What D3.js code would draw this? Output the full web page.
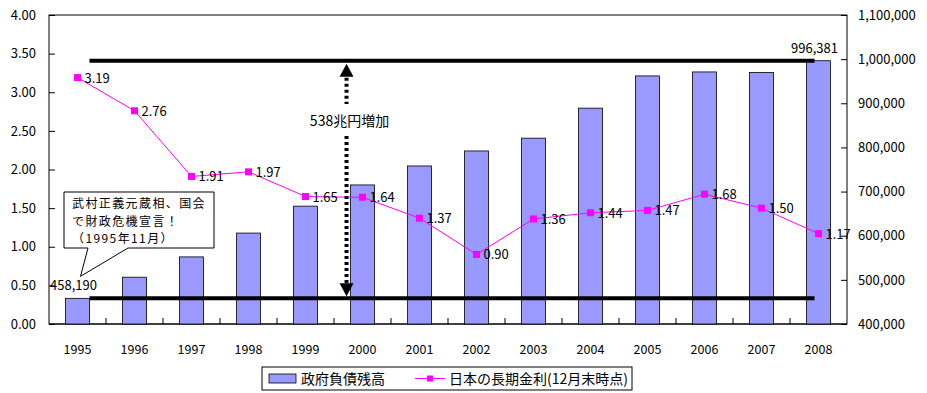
<!DOCTYPE html>
<html>
<head>
<meta charset="utf-8">
<script src="https://cdn.jsdelivr.net/npm/d3@7"></script>
<style>
  body { margin: 0; background: #fff; }
  svg text { font-family: "MS PGothic", "Noto Sans CJK JP", sans-serif; fill: #000; }
</style>
</head>
<body>
<div id="container"></div>
<script>
// data
const years = ['1995','1996','1997','1998','1999','2000','2001','2002','2003','2004','2005','2006','2007','2008'];
const debt = [458190, 506000, 552000, 606000, 667000, 715000, 758000, 792000, 821000, 889000, 962000, 971000, 970000, 996381];
const rates = [3.19, 2.76, 1.91, 1.97, 1.65, 1.64, 1.37, 0.90, 1.36, 1.44, 1.47, 1.68, 1.50, 1.17];
const leftTicks = [0, 0.5, 1, 1.5, 2, 2.5, 3, 3.5, 4];
const rightTicks = [400000, 500000, 600000, 700000, 800000, 900000, 1000000, 1100000];
const seriesNames = ['政府負債残高', '日本の長期金利(12月末時点)'];
const calloutLines = ['武村正義元蔵相、国会', 'で財政危機宣言！', '（1995年11月）'];
const increaseLabel = '538兆円増加';

const W = 927, H = 393;
const plot = { left: 49, right: 847, top: 15, bottom: 324 };

const svg = d3.select('#container')
    .append('svg')
    .attr('width', W)
    .attr('height', H)

const x = d3.scaleBand()
    .domain(years)
    .range([plot.left, plot.right])
    .paddingInner(0.58)
    .paddingOuter(0.29)

const yRate = d3.scaleLinear().domain([0, 4]).range([plot.bottom, plot.top])
const yDebt = d3.scaleLinear().domain([400000, 1100000]).range([plot.bottom, plot.top])

const cx = d => x(d) + x.bandwidth() / 2

// plot frame
svg.append('rect')
    .attr('x', plot.left).attr('y', plot.top)
    .attr('width', plot.right - plot.left)
    .attr('height', plot.bottom - plot.top)
    .attr('fill', 'none')
    .attr('stroke', '#000')
    .attr('stroke-width', 1)

// left axis (ticks inside)
const leftAxis = d3.axisLeft(yRate).tickValues(leftTicks).tickFormat(d3.format('.2f')).tickSizeInner(-6).tickSizeOuter(0).tickPadding(13)
const gl = svg.append('g').attr('transform', `translate(${plot.left},0)`).call(leftAxis)
gl.selectAll('text').style('font-size', '13px')

// right axis (ticks inside)
const rightAxis = d3.axisRight(yDebt).tickValues(rightTicks).tickFormat(d3.format(',')).tickSizeInner(-6).tickSizeOuter(0).tickPadding(11)
const gr = svg.append('g').attr('transform', `translate(${plot.right},0)`).call(rightAxis)
gr.selectAll('text').style('font-size', '13px')

// x axis: ticks at category boundaries, pointing up
const gx = svg.append('g').attr('transform', `translate(0,${plot.bottom})`)
gx.append('line').attr('x1', plot.left).attr('x2', plot.right).attr('stroke', '#000')
years.slice(1).forEach(y => {
    const bx = x(y) - x.step() * x.paddingInner() / 2
    gx.append('line').attr('x1', bx).attr('x2', bx).attr('y1', 0).attr('y2', -6).attr('stroke', '#000')
})
gx.selectAll('text.year')
    .data(years)
    .enter()
    .append('text')
    .attr('class', 'year')
    .attr('x', d => cx(d))
    .attr('y', 30)
    .attr('text-anchor', 'middle')
    .style('font-size', '12.5px')
    .text(d => d)

svg.selectAll('.domain').remove()

// bars
svg.selectAll('rect.bar')
    .data(debt)
    .enter()
    .append('rect')
    .attr('class', 'bar')
    .attr('x', (d, i) => x(years[i]))
    .attr('y', d => yDebt(d))
    .attr('width', x.bandwidth())
    .attr('height', d => plot.bottom - yDebt(d))
    .attr('fill', '#9999FF')
    .attr('stroke', '#000')
    .attr('stroke-width', 0.8)

// thick reference lines at first and last debt values
const first = debt[0], last = debt[debt.length - 1]
const lx1 = x(years[0]) + x.bandwidth(), lx2 = x(years[years.length - 1]) + 8
;[first, last].forEach(v => {
    svg.append('line')
        .attr('x1', lx1).attr('x2', lx2)
        .attr('y1', yDebt(v)).attr('y2', yDebt(v))
        .attr('stroke', '#000')
        .attr('stroke-width', 4)
})

// debt labels for first and last bars
;[0, debt.length - 1].forEach(i => {
    svg.append('text')
        .attr('x', cx(years[i]) - 4)
        .attr('y', yDebt(debt[i]) - 8)
        .attr('text-anchor', 'middle')
        .style('font-size', '13px')
        .text(d3.format(',')(debt[i]))
})

// rate line
const line = d3.line().x((d, i) => cx(years[i])).y(d => yRate(d))
svg.append('path')
    .datum(rates)
    .attr('d', line)
    .attr('fill', 'none')
    .attr('stroke', '#FF00FF')
    .attr('stroke-width', 1)

svg.selectAll('rect.marker')
    .data(rates)
    .enter()
    .append('rect')
    .attr('class', 'marker')
    .attr('x', (d, i) => cx(years[i]) - 3.5)
    .attr('y', d => yRate(d) - 3.5)
    .attr('width', 7)
    .attr('height', 7)
    .attr('fill', '#FF00FF')

svg.selectAll('text.rate')
    .data(rates)
    .enter()
    .append('text')
    .attr('class', 'rate')
    .attr('x', (d, i) => cx(years[i]) + 7)
    .attr('y', d => yRate(d) + 5)
    .style('font-size', '13px')
    .text(d => d.toFixed(2))

// dotted double arrow
const ax = x('2000') - 4
const aTop = yDebt(last) + 3, aBot = yDebt(first) - 2
const labelY = (aTop + aBot) / 2 - 60
svg.append('line')
    .attr('x1', ax).attr('x2', ax)
    .attr('y1', aTop + 14).attr('y2', labelY - 16)
    .attr('stroke', '#000').attr('stroke-width', 4).attr('stroke-dasharray', '3,3')
svg.append('line')
    .attr('x1', ax).attr('x2', ax)
    .attr('y1', labelY + 16).attr('y2', aBot - 12)
    .attr('stroke', '#000').attr('stroke-width', 4).attr('stroke-dasharray', '3,3')
svg.append('path')
    .attr('d', `M${ax},${aTop} L${ax - 7},${aTop + 13} L${ax + 7},${aTop + 13} Z`)
    .attr('fill', '#000')
svg.append('path')
    .attr('d', `M${ax},${aBot} L${ax - 7},${aBot - 13} L${ax + 7},${aBot - 13} Z`)
    .attr('fill', '#000')
svg.append('text')
    .attr('x', ax + 3)
    .attr('y', labelY + 6)
    .attr('text-anchor', 'middle')
    .style('font-size', '14px')
    .text(increaseLabel)

// callout
const bx0 = 64, bx1 = 214, by0 = 192, by1 = 248
const tipX = cx(years[0]) + 3, tipY = yDebt(first) - 22
svg.append('path')
    .attr('d', `M${bx0},${by0} H${bx1} V${by1} H${bx0 + 64} L${tipX},${tipY} L${bx0 + 24},${by1} H${bx0} Z`)
    .attr('fill', '#fff')
    .attr('stroke', '#000')
    .attr('stroke-width', 1)
calloutLines.forEach((t, i) => {
    svg.append('text')
        .attr('x', bx0 + 8)
        .attr('y', by0 + 16 + i * 17.5)
        .style('font-size', '12px')
        .style('letter-spacing', '1.4px')
        .text(t)
})

// legend
const lg = svg.append('g').attr('transform', 'translate(262,367)')
lg.append('rect').attr('width', 370).attr('height', 23).attr('fill', '#fff').attr('stroke', '#000')
lg.append('rect').attr('x', 7).attr('y', 7).attr('width', 27).attr('height', 9).attr('fill', '#9999FF').attr('stroke', '#000').attr('stroke-width', 0.8)
lg.append('text').attr('x', 39).attr('y', 17).style('font-size', '14px').text(seriesNames[0])
lg.append('line').attr('x1', 153).attr('x2', 183).attr('y1', 11.5).attr('y2', 11.5).attr('stroke', '#FF00FF')
lg.append('rect').attr('x', 165).attr('y', 8.5).attr('width', 6).attr('height', 6).attr('fill', '#FF00FF')
lg.append('text').attr('x', 187).attr('y', 17).style('font-size', '14px').text(seriesNames[1])
</script>
</body>
</html>
